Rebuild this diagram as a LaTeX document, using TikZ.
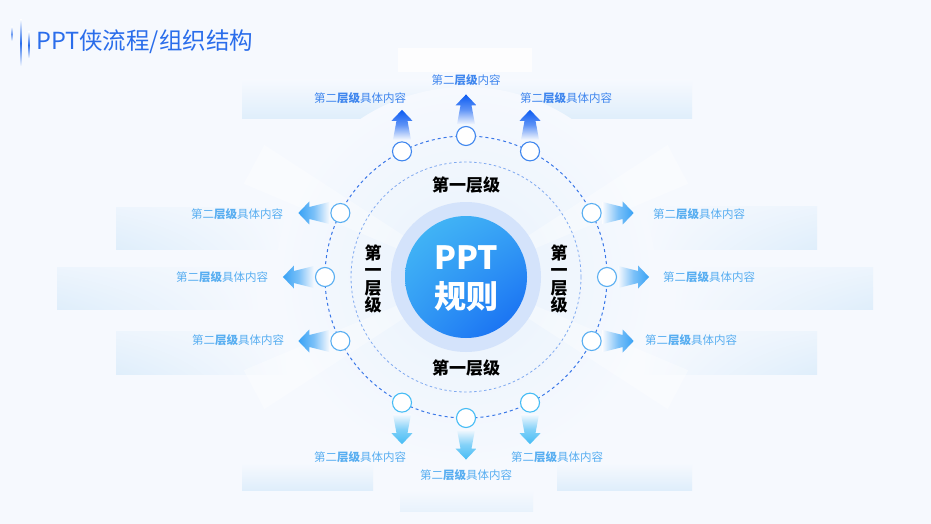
\documentclass[tikz,border=0pt]{standalone}
\usepackage{fontspec}
\setmainfont{Noto Sans CJK SC}
\usepackage{tikz}
\usetikzlibrary{positioning, calc, shadings}

\definecolor{bgc}{HTML}{F6F9FE}
\definecolor{titleblue}{HTML}{2A6DEB}
\definecolor{deepblue}{HTML}{0B5BF2}
\definecolor{midblue}{HTML}{38A2F5}
\definecolor{skyblue}{HTML}{45BCF5}
\definecolor{ringblue}{HTML}{3B78E8}
\definecolor{innerring}{HTML}{7FAAF0}
\definecolor{labtop}{HTML}{3F86EE}
\definecolor{labside}{HTML}{58AEF1}
\definecolor{halo}{HTML}{D4E3FB}
\definecolor{boxblue}{HTML}{DFEEFB}

\tikzset{
	dot/.style={circle, draw=#1, fill=white, line width=1.1pt, minimum size=19pt, inner sep=0pt},
	sublabel/.style={font=\fontsize{11.5}{12}\selectfont, text=#1, inner sep=0pt},
	firstlevel/.style={font=\fontsize{17}{17.5}\selectfont\bfseries, inner sep=0pt, align=center},
	pics/uparrow/.style={code={\shade[top color=#1, bottom color=bgc, middle color=#1!65!bgc] (-9,0) -- (-5.5,-19) -- (-10.5,-19) -- (0,-30) -- (10.5,-19) -- (5.5,-19) -- (9,0) -- cycle;}},
	pics/downarrow/.style={code={\shade[top color=bgc, bottom color=#1, middle color=#1!65!bgc] (-9,0) -- (-5.5,19) -- (-10.5,19) -- (0,30) -- (10.5,19) -- (5.5,19) -- (9,0) -- cycle;}},
	pics/rightarrow/.style={code={\shade[left color=bgc, right color=#1, middle color=#1!65!bgc] (0,-11) -- (20,-6) -- (20,-11.5) -- (31,0) -- (20,11.5) -- (20,6) -- (0,11) -- cycle;}},
	pics/leftarrow/.style={code={\shade[right color=bgc, left color=#1, middle color=#1!65!bgc] (0,-11) -- (-20,-6) -- (-20,-11.5) -- (-31,0) -- (-20,11.5) -- (-20,6) -- (0,11) -- cycle;}}
}

\begin{document}
\begin{tikzpicture}[x=1pt, y=-1pt]
	\useasboundingbox (0,0) rectangle (931,524);
	\fill[bgc] (0,0) rectangle (931,524);
	\coordinate (o) at (466,277);
	
	\shade[top color=bgc, bottom color=boxblue] (242,80) rectangle (692,119);
	\fill[white, opacity=0.8] (398,48) rectangle (532,72);
	\shade[upper left=bgc, upper right=bgc!60!boxblue, lower left=bgc, lower right=boxblue] (640,206) rectangle (817,249);
	\shade[upper left=bgc, upper right=bgc!60!boxblue, lower left=bgc, lower right=boxblue] (670,267) rectangle (873,309);
	\shade[upper left=bgc, upper right=bgc!60!boxblue, lower left=bgc, lower right=boxblue] (640,331) rectangle (817,374);
	\shade[upper right=bgc, upper left=bgc!60!boxblue, lower right=bgc, lower left=boxblue] (116,207) rectangle (290,249);
	\shade[upper right=bgc, upper left=bgc!60!boxblue, lower right=bgc, lower left=boxblue] (57,267) rectangle (262,309);
	\shade[upper right=bgc, upper left=bgc!60!boxblue, lower right=bgc, lower left=boxblue] (116,331) rectangle (290,374);
	\shade[top color=bgc, bottom color=boxblue] (242,463) rectangle (373,490);
	\shade[top color=bgc, bottom color=boxblue] (557,463) rectangle (692,490);
	\shade[top color=bgc, bottom color=boxblue!60!bgc] (400,490) rectangle (533,511);
	
	\shade[inner color=boxblue!60!bgc, outer color=bgc] (o) circle (190);
	\foreach \ang in {28,152,208,332}
		\fill[white, opacity=0.35, rotate around={\ang:(o)}] ($(o)+(72,-7)$) -- ($(o)+(240,-22)$) -- ($(o)+(240,22)$) -- ($(o)+(72,7)$) -- cycle;
	
	\draw[ringblue, line width=1pt, dash pattern=on 3pt off 3pt] (o) circle (141);
	\draw[innerring, line width=0.8pt, dash pattern=on 2.5pt off 2.5pt] (o) circle (115);
	\fill[halo] (o) circle (75);
	\shade[upper left=skyblue, upper right=midblue, lower left=midblue!85!deepblue, lower right=deepblue!85!midblue] (o) circle (61);
	\node[text=white, font=\fontsize{32}{39}\selectfont\bfseries, align=center] (core) at ($(o)+(0,2)$) {PPT\\规则};
	
	\node[firstlevel] (ft) at (466,185) {第一层级};
	\node[firstlevel] (fb) at (466,368) {第一层级};
	\node[firstlevel] (fl) at (373,279) {第\\一\\层\\级};
	\node[firstlevel] (fr) at (559,279) {第\\一\\层\\级};
	
	\foreach \ang/\nm in {243/t1, 270/t2, 297/t3}
		\node[dot=labtop] (\nm) at ($(o)+(\ang:141)$) {};
	\foreach \ang/\nm in {333/r1, 0/r2, 27/r3, 207/l1, 180/l2, 153/l3}
		\node[dot=labside] (\nm) at ($(o)+(\ang:141)$) {};
	\foreach \ang/\nm in {117/b1, 90/b2, 63/b3}
		\node[dot=skyblue] (\nm) at ($(o)+(\ang:141)$) {};
	
	\foreach \nm in {t1,t2,t3}
		\pic at ([yshift=1.5pt]\nm.north) {uparrow=deepblue};
	\foreach \nm in {b1,b2,b3}
		\pic at ([yshift=-1.5pt]\nm.south) {downarrow=skyblue};
	\foreach \nm in {r1,r2,r3}
		\pic at ([xshift=1pt]\nm.east) {rightarrow=midblue};
	\foreach \nm in {l1,l2,l3}
		\pic at ([xshift=-1pt]\nm.west) {leftarrow=midblue};
	
	\node[sublabel=labtop] (lt1) at (360,98) {第二\textbf{层级}具体内容};
	\node[sublabel=labtop] (lt2) at (466,80) {第二\textbf{层级}内容};
	\node[sublabel=labtop] (lt3) at (566,98) {第二\textbf{层级}具体内容};
	\node[sublabel=labside] (lr1) at (699,214) {第二\textbf{层级}具体内容};
	\node[sublabel=labside] (lr2) at (709,277) {第二\textbf{层级}具体内容};
	\node[sublabel=labside] (lr3) at (691,340) {第二\textbf{层级}具体内容};
	\node[sublabel=labside] (ll1) at (237,214) {第二\textbf{层级}具体内容};
	\node[sublabel=labside] (ll2) at (222,277) {第二\textbf{层级}具体内容};
	\node[sublabel=labside] (ll3) at (238,340) {第二\textbf{层级}具体内容};
	\node[sublabel=labside] (lb1) at (360,457) {第二\textbf{层级}具体内容};
	\node[sublabel=labside] (lb2) at (466,475) {第二\textbf{层级}具体内容};
	\node[sublabel=labside] (lb3) at (557,457) {第二\textbf{层级}具体内容};
	
	\shade[top color=bgc, bottom color=bgc, middle color=titleblue!70] (11.3,27) rectangle (12.7,41);
	\shade[top color=bgc, bottom color=bgc, middle color=titleblue] (20.2,20) rectangle (21.8,66);
	\shade[top color=bgc, bottom color=bgc, middle color=titleblue] (28.2,32) rectangle (29.8,58);
	\node[anchor=west, text=titleblue, font=\fontsize{23.5}{24}\selectfont, inner sep=0pt] (title) at (36,42) {PPT侠流程/组织结构};
\end{tikzpicture}
\end{document}
